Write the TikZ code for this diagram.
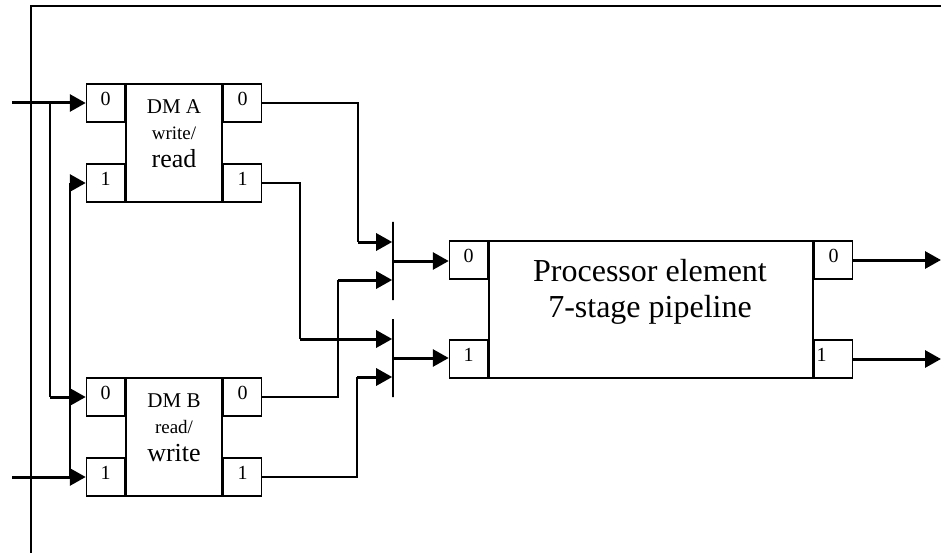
\documentclass[tikz,border=0pt]{standalone}
\usepackage{fontspec}
\setmainfont{Liberation Serif}
\usetikzlibrary{arrows.meta}
\tikzset{
  box/.style={draw,line width=1.5pt,inner sep=0pt},
  port/.style={box,minimum width=38pt,minimum height=38pt,text depth=8pt,font=\fontsize{20}{20}\selectfont},
  bar/.style={draw,line width=1.6pt,minimum width=0pt,minimum height=78pt,inner sep=0pt},
  wire/.style={line width=1.6pt},
  feed/.style={line width=3pt,-{Triangle[length=16pt,width=17pt]}},
  dmtext/.style={align=center,inner sep=0pt,font=\fontsize{21}{26}\selectfont},
}

\begin{document}
\begin{tikzpicture}[x=1pt,y=-1pt]
\useasboundingbox (0,0) rectangle (941,553);
\draw[line width=1.8pt] (31,560) -- (31,6) -- (950,6);
\node[box,minimum width=96pt,minimum height=118pt] (dma) at (174,143) {};
\node[port,anchor=north east] (dmaI0) at (dma.north west) {0};
\node[port,anchor=south east] (dmaI1) at (dma.south west) {1};
\node[port,anchor=north west] (dmaO0) at (dma.north east) {0};
\node[port,anchor=south west] (dmaO1) at (dma.south east) {1};
\node[dmtext] (dmaLbl) at (174,134) {DM A\\{\fontsize{19}{26}\selectfont write/}\\[2pt]{\fontsize{26}{28}\selectfont read}};
\node[box,minimum width=96pt,minimum height=118pt] (dmb) at (174,437) {};
\node[port,anchor=north east] (dmbI0) at (dmb.north west) {0};
\node[port,anchor=south east] (dmbI1) at (dmb.south west) {1};
\node[port,anchor=north west] (dmbO0) at (dmb.north east) {0};
\node[port,anchor=south west] (dmbO1) at (dmb.south east) {1};
\node[dmtext] (dmbLbl) at (174,428) {DM B\\{\fontsize{19}{26}\selectfont read/}\\[2pt]{\fontsize{26}{28}\selectfont write}};
\node[box,minimum width=324pt,minimum height=137pt] (pe) at (651,309.5) {};
\node[port,anchor=north east] (peI0) at (pe.north west) {0};
\node[port,anchor=south east] (peI1) at (pe.south west) {1};
\node[port,anchor=north west] (peO0) at (pe.north east) {0};
\node[port,anchor=south west,text width=34pt,align=left] (peO1) at (pe.south east) {1};
\node[align=center,inner sep=0pt,font=\fontsize{32}{36}\selectfont] (peLbl) at (650,292) {Processor element\\7-stage pipeline};
\node[bar] (bar1) at (393,261) {};
\node[bar] (bar2) at (393,358) {};
\coordinate (bar1a) at ([yshift=19pt]bar1.west);
\coordinate (bar1b) at ([yshift=-19pt]bar1.west);
\coordinate (bar2a) at ([yshift=19pt]bar2.west);
\coordinate (bar2b) at ([yshift=-19pt]bar2.west);
\coordinate (inA) at (12,103);
\coordinate (inB) at (12,477);
\coordinate (splA) at (50,103);
\coordinate (splB) at (70,477);
\coordinate (outA) at (941,261);
\coordinate (outB) at (941,358);
\draw[feed] (inA) -- (dmaI0.west);
\draw[feed] (inB) -- (dmbI1.west);
\draw[wire] (splA) -- (splA |- dmbI0.west);
\draw[feed] (splA |- dmbI0.west) -- (dmbI0.west);
\draw[wire] (splB) -- (splB |- dmaI1.west);
\draw[feed] (splB |- dmaI1.west) -- (dmaI1.west);
\draw[wire] (dmaO0.east) -- ++(96,0) coordinate (kA0) -- (kA0 |- bar1a);
\draw[feed] (kA0 |- bar1a) -- (bar1a);
\draw[wire] (dmaO1.east) -- ++(38,0) coordinate (kA1) -- (kA1 |- bar2a);
\draw[feed] (kA1 |- bar2a) -- (bar2a);
\draw[wire] (dmbO0.east) -- ++(76,0) coordinate (kB0) -- (kB0 |- bar1b);
\draw[feed] (kB0 |- bar1b) -- (bar1b);
\draw[wire] (dmbO1.east) -- ++(95,0) coordinate (kB1) -- (kB1 |- bar2b);
\draw[feed] (kB1 |- bar2b) -- (bar2b);
\draw[feed] (bar1.east) -- (bar1.east -| peI0.west);
\draw[feed] (bar2.east) -- (bar2.east -| peI1.west);
\draw[feed] (peO0.east) -- (peO0.east -| outA);
\draw[feed] (peO1.east) -- (peO1.east -| outB);
\end{tikzpicture}
\end{document}
